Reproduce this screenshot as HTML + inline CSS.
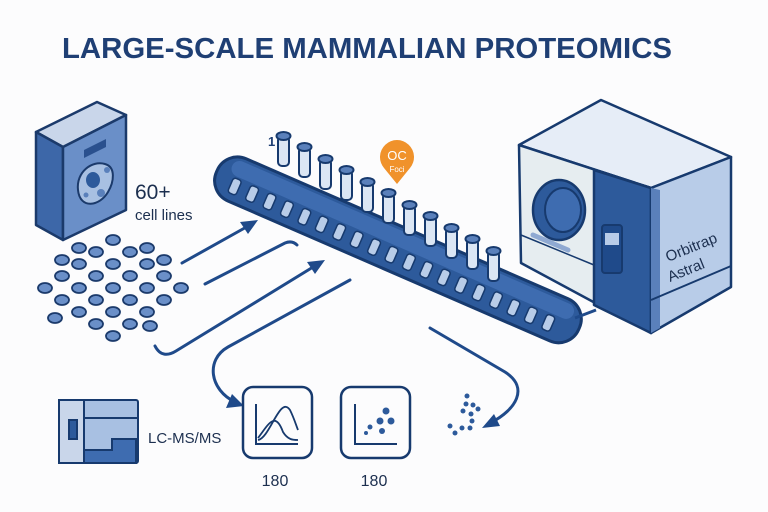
<!DOCTYPE html>
<html><head><meta charset="utf-8"><style>
html,body{margin:0;padding:0;background:#fcfcfd;}
svg{display:block;}
text{font-family:"Liberation Sans",sans-serif;}
</style></head><body>
<svg width="768" height="512" viewBox="0 0 768 512" xmlns="http://www.w3.org/2000/svg">
<rect width="768" height="512" fill="#fcfcfd"/>
<text x="62" y="58" font-size="29" font-weight="bold" fill="#1f3f74" textLength="610" lengthAdjust="spacingAndGlyphs">LARGE-SCALE MAMMALIAN PROTEOMICS</text>

<!-- culture box -->
<g stroke="#1b3a6b" stroke-width="2.5" stroke-linejoin="round">
<polygon points="36,132 97,102 126,115 63,147" fill="#c9d6ea"/>
<polygon points="36,132 63,147 63,240 36,225" fill="#3d67a8"/>
<polygon points="63,147 126,115 126,210 63,240" fill="#6a8fc8"/>
</g>
<polygon points="84,150 106,139 106,147 84,158" fill="#2a508e"/>
<g stroke="#1b3a6b" stroke-width="2">
<path d="M78,190 C76,172 92,160 105,164 C116,167 114,182 108,192 C100,206 80,210 78,190Z" fill="#a8c0e2"/>
</g>
<ellipse cx="93" cy="180" rx="7" ry="8" fill="#2d5a9b"/>
<circle cx="107" cy="170" r="3" fill="#5a80bb"/>
<circle cx="101" cy="193" r="4" fill="#5a80bb"/>
<circle cx="86" cy="195" r="2.5" fill="#5a80bb"/>
<text x="135" y="199" font-size="21" fill="#1c2f4f">60+</text>
<text x="135" y="220" font-size="15" fill="#1c2f4f">cell lines</text>

<!-- dots grid -->
<g fill="#6a8fc8" stroke="#1b3a6b" stroke-width="1.8">
<ellipse cx="113" cy="240" rx="7" ry="5"/><ellipse cx="130" cy="252" rx="7" ry="5"/><ellipse cx="147" cy="264" rx="7" ry="5"/><ellipse cx="164" cy="276" rx="7" ry="5"/><ellipse cx="181" cy="288" rx="7" ry="5"/>
<ellipse cx="96" cy="252" rx="7" ry="5"/><ellipse cx="113" cy="264" rx="7" ry="5"/><ellipse cx="130" cy="276" rx="7" ry="5"/><ellipse cx="147" cy="288" rx="7" ry="5"/><ellipse cx="164" cy="300" rx="7" ry="5"/>
<ellipse cx="79" cy="264" rx="7" ry="5"/><ellipse cx="96" cy="276" rx="7" ry="5"/><ellipse cx="113" cy="288" rx="7" ry="5"/><ellipse cx="130" cy="300" rx="7" ry="5"/><ellipse cx="147" cy="312" rx="7" ry="5"/>
<ellipse cx="62" cy="276" rx="7" ry="5"/><ellipse cx="79" cy="288" rx="7" ry="5"/><ellipse cx="96" cy="300" rx="7" ry="5"/><ellipse cx="113" cy="312" rx="7" ry="5"/><ellipse cx="130" cy="324" rx="7" ry="5"/>
<ellipse cx="45" cy="288" rx="7" ry="5"/><ellipse cx="62" cy="300" rx="7" ry="5"/><ellipse cx="79" cy="312" rx="7" ry="5"/><ellipse cx="96" cy="324" rx="7" ry="5"/><ellipse cx="113" cy="336" rx="7" ry="5"/>
<ellipse cx="147" cy="248" rx="7" ry="5"/><ellipse cx="79" cy="248" rx="7" ry="5"/><ellipse cx="164" cy="260" rx="7" ry="5"/><ellipse cx="62" cy="260" rx="7" ry="5"/>
<ellipse cx="55" cy="318" rx="7" ry="5"/><ellipse cx="150" cy="326" rx="7" ry="5"/>
</g>

<!-- arrows -->
<g fill="none" stroke="#1f4a8a" stroke-width="3" stroke-linecap="round">
<path d="M182,263 L250,225"/>
<path d="M205,284 L285,243 C290,241 294,242 297,245"/>
<path d="M155,346 C160,356 168,356 176,351 L318,264"/>
<path d="M350,280 L228,347 C205,360 210,390 235,402"/>
<path d="M430,328 L505,372 C530,388 515,410 492,422"/>
</g>
<g fill="#1f4a8a">
<polygon points="258,220 240,222 248,234"/>
<polygon points="325,260 307,262 315,274"/>
<polygon points="244,406 226,408 232,394"/>
<polygon points="482,428 494,414 500,426"/>
</g>

<!-- conveyor -->
<g transform="translate(226,150) rotate(23.5)">
<rect x="0" y="0" width="395" height="46" rx="22" fill="#2d5a9b" stroke="#173a6e" stroke-width="3"/>
<rect x="12" y="4" width="372" height="16" rx="8" fill="#3e6cb0"/>
<g fill="#b8cce8" stroke="#173a6e" stroke-width="1.5">
<rect x="18" y="22" width="9" height="16" rx="3"/><rect x="37" y="22" width="9" height="16" rx="3"/><rect x="56" y="22" width="9" height="16" rx="3"/><rect x="75" y="22" width="9" height="16" rx="3"/><rect x="94" y="22" width="9" height="16" rx="3"/><rect x="113" y="22" width="9" height="16" rx="3"/><rect x="132" y="22" width="9" height="16" rx="3"/><rect x="151" y="22" width="9" height="16" rx="3"/><rect x="170" y="22" width="9" height="16" rx="3"/><rect x="189" y="22" width="9" height="16" rx="3"/><rect x="208" y="22" width="9" height="16" rx="3"/><rect x="227" y="22" width="9" height="16" rx="3"/><rect x="246" y="22" width="9" height="16" rx="3"/><rect x="265" y="22" width="9" height="16" rx="3"/><rect x="284" y="22" width="9" height="16" rx="3"/><rect x="303" y="22" width="9" height="16" rx="3"/><rect x="322" y="22" width="9" height="16" rx="3"/><rect x="341" y="22" width="9" height="16" rx="3"/><rect x="360" y="22" width="9" height="16" rx="3"/>
</g>
</g>
<line x1="575" y1="318" x2="596" y2="310" stroke="#1f4a8a" stroke-width="3"/>

<!-- tubes -->
<g stroke="#173a6e" stroke-width="2">
<g fill="#dbe6f4">
<rect x="278" y="136" width="11" height="30" rx="4"/><rect x="299" y="147" width="11" height="30" rx="4"/><rect x="320" y="159" width="11" height="30" rx="4"/><rect x="341" y="170" width="11" height="30" rx="4"/><rect x="362" y="182" width="11" height="30" rx="4"/><rect x="383" y="193" width="11" height="30" rx="4"/><rect x="404" y="205" width="11" height="30" rx="4"/><rect x="425" y="216" width="11" height="30" rx="4"/><rect x="446" y="228" width="11" height="30" rx="4"/><rect x="467" y="239" width="11" height="30" rx="4"/><rect x="488" y="251" width="11" height="30" rx="4"/>
</g>
<g fill="#5a80bb">
<ellipse cx="283.5" cy="136" rx="7" ry="4"/><ellipse cx="304.5" cy="147" rx="7" ry="4"/><ellipse cx="325.5" cy="159" rx="7" ry="4"/><ellipse cx="346.5" cy="170" rx="7" ry="4"/><ellipse cx="367.5" cy="182" rx="7" ry="4"/><ellipse cx="388.5" cy="193" rx="7" ry="4"/><ellipse cx="409.5" cy="205" rx="7" ry="4"/><ellipse cx="430.5" cy="216" rx="7" ry="4"/><ellipse cx="451.5" cy="228" rx="7" ry="4"/><ellipse cx="472.5" cy="239" rx="7" ry="4"/><ellipse cx="493.5" cy="251" rx="7" ry="4"/>
</g>
</g>
<text x="268" y="146" font-size="13" font-weight="bold" fill="#1f3f74">1</text>

<!-- orange pin -->
<path d="M397,184 L384,168 A17,17 0 1 1 410,168 Z" fill="#f0922b"/>
<text x="397" y="160" font-size="13" fill="#fff" text-anchor="middle">OC</text>
<text x="397" y="172" font-size="8" fill="#fff" text-anchor="middle">Foci</text>

<!-- instrument -->
<g stroke="#173a6e" stroke-width="2.5" stroke-linejoin="round">
<polygon points="519,145 601,100 731,157 651,188" fill="#e6edf7"/>
<polygon points="519,145 651,188 651,333 521,263" fill="#e6edf0"/>
<polygon points="594,170 651,188 651,333 594,305" fill="#2d5a9b"/>
<polygon points="651,188 731,157 731,287 651,333" fill="#b8cce8"/>
</g>
<polygon points="651,188 660,190 660,328 651,333" fill="#5a80bb"/>
<line x1="651" y1="300" x2="731" y2="266" stroke="#173a6e" stroke-width="2"/>
<line x1="521" y1="235" x2="594" y2="265" stroke="#173a6e" stroke-width="1.5"/>
<ellipse cx="559" cy="210" rx="26" ry="30" fill="#2d5a9b" stroke="#173a6e" stroke-width="2.5"/>
<ellipse cx="563" cy="210" rx="18" ry="22" fill="#3e6cb0" stroke="#173a6e" stroke-width="2"/>
<line x1="533" y1="235" x2="568" y2="250" stroke="#8fa9d2" stroke-width="5" stroke-linecap="round"/>
<rect x="602" y="225" width="20" height="48" rx="3" fill="#1f4a8a" stroke="#173a6e" stroke-width="2"/>
<rect x="605" y="233" width="14" height="12" fill="#b8cce8"/>
<text transform="translate(668,262) rotate(-22)" font-size="15" fill="#1c2f4f">Orbitrap</text>
<text transform="translate(670,282) rotate(-22)" font-size="15" fill="#1c2f4f">Astral</text>

<!-- LC box -->
<g stroke="#173a6e" stroke-width="2">
<rect x="59" y="400" width="79" height="63" rx="2" fill="#a8c0e2"/>
<rect x="59" y="400" width="25" height="63" fill="#c9d6ea"/>
<path d="M84,418 L138,418" />
<polygon points="112,439 136,439 136,463 84,463 84,450 112,450" fill="#3e6cb0"/>
<rect x="69" y="420" width="8" height="19" fill="#2d5a9b"/>
</g>
<text x="148" y="443" font-size="15" fill="#1c2f4f">LC-MS/MS</text>

<!-- chart boxes -->
<g fill="none" stroke="#173a6e" stroke-width="2.5">
<rect x="243" y="387" width="69" height="71" rx="10"/>
<rect x="341" y="387" width="69" height="71" rx="10"/>
<path d="M256,404 L256,444 L298,444" stroke-width="2"/>
<path d="M258,438 C268,425 275,410 283,432 C288,440 293,440 298,440" stroke-width="1.8"/>
<path d="M258,440 C270,438 280,395 290,410 C294,418 296,425 298,430" stroke-width="1.8"/>
<path d="M355,404 L355,444 L397,444" stroke-width="2"/>
</g>
<g fill="#2d5a9b">
<circle cx="386" cy="411" r="3.5"/><circle cx="380" cy="421" r="3.5"/><circle cx="391" cy="421" r="3.5"/><circle cx="382" cy="431" r="3"/><circle cx="370" cy="427" r="2.5"/><circle cx="366" cy="433" r="2"/>
<circle cx="467" cy="396" r="2.5"/><circle cx="466" cy="404" r="2.5"/><circle cx="473" cy="405" r="2.5"/><circle cx="463" cy="411" r="2.5"/><circle cx="471" cy="414" r="2.5"/><circle cx="478" cy="409" r="2.5"/><circle cx="472" cy="421" r="2.5"/><circle cx="462" cy="428" r="2.5"/><circle cx="450" cy="426" r="2.5"/><circle cx="455" cy="433" r="2.5"/><circle cx="470" cy="428" r="2.5"/>
</g>
<text x="275" y="486" font-size="16" fill="#1c2f4f" text-anchor="middle">180</text>
<text x="374" y="486" font-size="16" fill="#1c2f4f" text-anchor="middle">180</text>
</svg>
</body></html>
